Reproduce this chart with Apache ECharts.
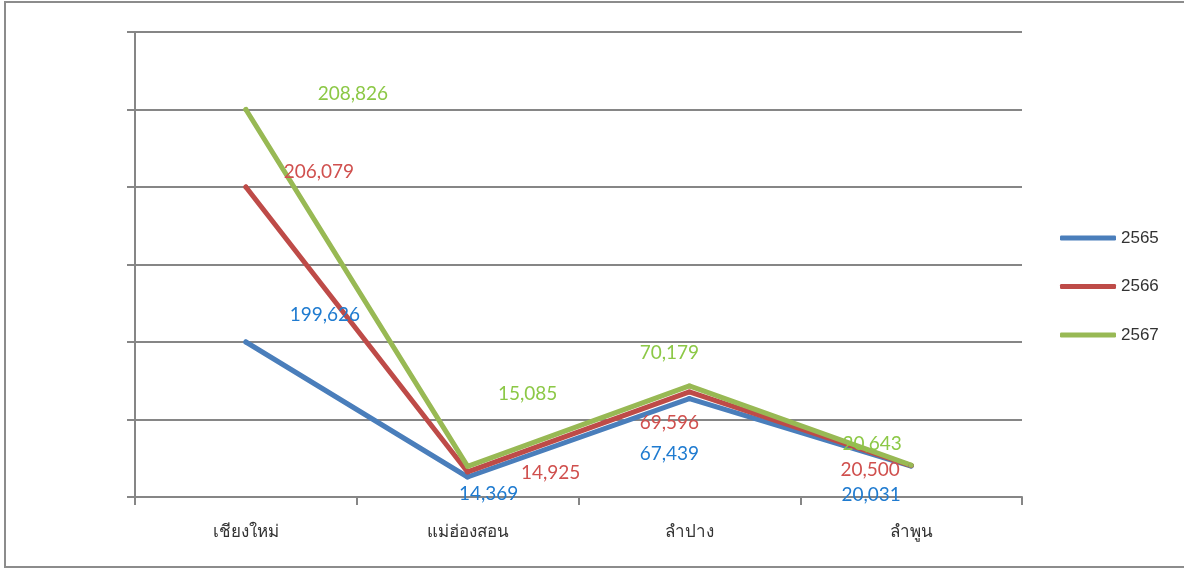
<!DOCTYPE html>
<html>
<head>
<meta charset="utf-8">
<script src="https://cdn.jsdelivr.net/npm/echarts@6/dist/echarts.min.js"></script>
<style>
html,body{margin:0;padding:0;background:#fff;}
#chart{width:1184px;height:568px;}
</style>
</head>
<body>
<div id="chart"></div>
<script>
// Categories (provinces)
const categories = ['เชียงใหม่', 'แม่ฮ่องสอน', 'ลำปาง', 'ลำพูน'];
const seriesNames = ['2565', '2566', '2567'];
// Plotted heights as read from the (unlabelled) value axis, in gridline units
const plot2565 = [2.0, 0.258, 1.27, 0.40];
const plot2566 = [4.0, 0.323, 1.356, 0.405];
const plot2567 = [5.0, 0.396, 1.433, 0.41];
// Data-label values shown on the chart
const label2565 = [199626, 14369, 67439, 20031];
const label2566 = [206079, 14925, 69596, 20500];
const label2567 = [208826, 15085, 70179, 20643];
// Y axis: no tick labels shown
const yMin = 0, yMax = 6, yInterval = 1;

const lineColors = ['#4a7ebb', '#be4b48', '#98b954'];
const labelColors = ['#1f7bd0', '#d0504e', '#8cc846'];
// label offsets (label centre relative to the point), per series / point
const labelOffsets = [
  [[79, -27], [21, 17], [-20, 55], [-40, 29]],
  [[73, -15], [83, 1], [-20, 31], [-41, 4]],
  [[107, -16], [60, -72], [-20, -33], [-39, -21]]
];

const plots = [plot2565, plot2566, plot2567];
const labels = [label2565, label2566, label2567];

function fmt(v) { return v.toLocaleString('en-US'); }

const series = seriesNames.map((name, si) => ({
  name: name,
  type: 'line',
  symbol: 'circle',
  symbolSize: 5,
  showSymbol: true,
  lineStyle: { width: 5, color: lineColors[si], cap: 'round', join: 'round' },
  itemStyle: { color: lineColors[si] },
  emphasis: { disabled: true },
  data: plots[si].map((v, i) => ({
    value: v,
    label: {
      show: true,
      position: 'inside',
      offset: labelOffsets[si][i],
      formatter: () => fmt(labels[si][i]),
      color: labelColors[si],
      fontSize: 19,
      fontFamily: 'Lato, "Open Sans", sans-serif',
      align: 'center',
      verticalAlign: 'middle'
    }
  }))
}));

const chart = echarts.init(document.getElementById('chart'), null, { renderer: 'canvas' });
chart.setOption({
  animation: false,
  backgroundColor: '#ffffff',
  graphic: [{
    type: 'rect',
    shape: { x: 5, y: 2, width: 1200, height: 565 },
    style: { fill: 'none', stroke: '#8c8c8c', lineWidth: 2 },
    silent: true
  }],
  grid: { left: 135, right: 162, top: 32, bottom: 71 },
  legend: {
    orient: 'vertical',
    left: 1055,
    top: 223,
    icon: 'roundRect',
    itemWidth: 56,
    itemHeight: 5,
    itemGap: 28.5,
    textStyle: { color: '#333', fontSize: 17, fontFamily: '"Liberation Sans", Arial, sans-serif', lineHeight: 20 },
    data: seriesNames
  },
  xAxis: {
    type: 'category',
    data: categories,
    boundaryGap: true,
    axisLine: { show: true, lineStyle: { color: '#868686', width: 2 } },
    axisTick: { show: true, length: 8, lineStyle: { color: '#868686', width: 2 } },
    axisLabel: { color: '#333', fontSize: 17, margin: 27, fontFamily: '"Noto Sans", "DejaVu Sans", sans-serif' },
    splitLine: { show: false }
  },
  yAxis: {
    type: 'value',
    min: yMin,
    max: yMax,
    interval: yInterval,
    axisLine: { show: true, lineStyle: { color: '#868686', width: 2 } },
    axisTick: { show: true, length: 8, lineStyle: { color: '#868686', width: 2 } },
    axisLabel: { show: false },
    splitLine: { show: true, lineStyle: { color: '#868686', width: 2 } }
  },
  series: series
});
</script>
</body>
</html>
